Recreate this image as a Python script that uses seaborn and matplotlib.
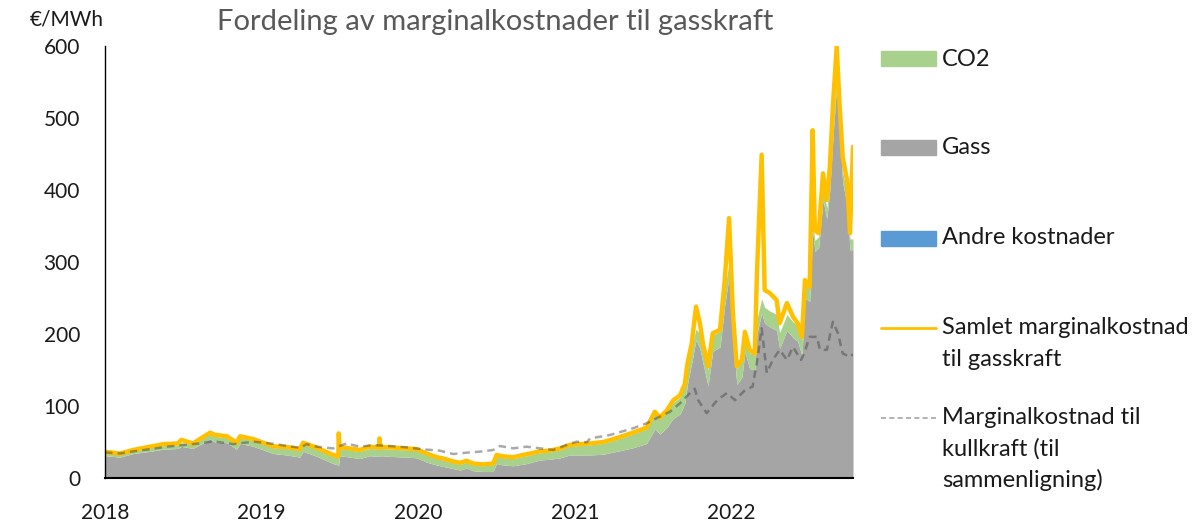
import pandas as pd
import matplotlib.pyplot as plt
import matplotlib.dates as mdates
from matplotlib.patches import Rectangle
from matplotlib.lines import Line2D
import seaborn as sns

sns.set_theme(style="white")
plt.rcParams['font.family'] = ['Lato', 'DejaVu Sans']

# Gas-fired marginal cost components (EUR/MWh)
dates = [
    "2018-01-01", "2018-02-05", "2018-03-08", "2018-04-16", "2018-05-17", "2018-06-20",
    "2018-06-28", "2018-07-25", "2018-09-03", "2018-09-14", "2018-10-12", "2018-11-04",
    "2018-11-12", "2018-12-13", "2019-01-05", "2019-01-28", "2019-03-01", "2019-03-31",
    "2019-04-08", "2019-05-10", "2019-06-17", "2019-06-29", "2019-06-30", "2019-07-02",
    "2019-07-26", "2019-08-18", "2019-09-11", "2019-10-02", "2019-10-03", "2019-10-05",
    "2019-10-27", "2019-12-05", "2019-12-29", "2020-01-21", "2020-02-13", "2020-02-29",
    "2020-03-23", "2020-04-08", "2020-04-23", "2020-05-09", "2020-06-01", "2020-06-24",
    "2020-07-02", "2020-07-18", "2020-08-10", "2020-09-10", "2020-10-11", "2020-11-03",
    "2020-11-27", "2020-12-20", "2021-01-12", "2021-02-05", "2021-03-08", "2021-03-31",
    "2021-04-16", "2021-05-16", "2021-06-17", "2021-07-06", "2021-07-18", "2021-08-03",
    "2021-08-18", "2021-09-03", "2021-09-14", "2021-09-20", "2021-09-30", "2021-10-10",
    "2021-10-19", "2021-10-26", "2021-11-07", "2021-11-18", "2021-12-05", "2021-12-16",
    "2021-12-26", "2022-01-04", "2022-01-13", "2022-01-25", "2022-02-01", "2022-02-12",
    "2022-02-24", "2022-03-01", "2022-03-12", "2022-03-19", "2022-03-31", "2022-04-16",
    "2022-04-23", "2022-05-10", "2022-05-24", "2022-06-04", "2022-06-14", "2022-06-21",
    "2022-07-02", "2022-07-09", "2022-07-14", "2022-07-23", "2022-08-02", "2022-08-11",
    "2022-08-18", "2022-08-25", "2022-09-03", "2022-09-10", "2022-09-17", "2022-09-27",
    "2022-10-04", "2022-10-11",
]
gas = [
    31, 29, 34, 37, 40, 41, 44, 41, 54, 50, 49, 40,
    48, 44, 39, 34, 32, 29, 37, 30, 20, 18, 18, 31,
    29, 27, 31, 30, 30, 31, 30, 29, 28, 22, 18, 16,
    13, 11, 14, 10, 9, 9, 20, 18, 17, 20, 25, 26,
    28, 32, 32, 32, 33, 36, 38, 42, 48, 68, 61, 70,
    83, 89, 104, 130, 160, 192, 180, 160, 128, 176, 182, 240,
    280, 200, 130, 140, 175, 152, 150, 200, 229, 215, 210, 205,
    180, 205, 195, 190, 170, 250, 245, 344, 315, 320, 386, 360,
    400, 470, 548, 480, 410, 380, 317, 317,
]
co2 = [
    4, 4, 4, 5, 5, 5, 5, 6, 7, 8, 7, 7,
    8, 8, 8, 8, 9, 9, 10, 10, 10, 10, 10, 10,
    10, 10, 10, 10, 10, 10, 10, 10, 10, 10, 9, 9,
    8, 8, 8, 8, 8, 9, 10, 10, 10, 11, 10, 10,
    11, 12, 13, 14, 15, 16, 17, 19, 20, 21, 21, 22,
    22, 23, 23, 23, 22, 15, 20, 22, 22, 22, 22, 22,
    20, 22, 22, 22, 22, 22, 22, 20, 20, 22, 22, 22,
    22, 22, 22, 22, 22, 18, 18, 15, 15, 15, 15, 15,
    15, 15, 15, 15, 15, 15, 15, 15,
]
total = [
    36.5, 34, 39, 43.5, 47, 48, 53, 48, 63, 60, 58, 49,
    58, 54, 49, 44, 43, 40, 49, 42, 32, 30, 62, 43,
    41, 39, 43.5, 42, 55, 43, 42.5, 41, 40, 34, 29, 27,
    23, 21, 24, 20, 19, 20, 32, 30, 29, 33, 37, 38,
    41, 46, 47, 48, 50, 54, 57, 63, 70, 92, 84, 94,
    108, 115, 131, 159, 187, 238, 215, 187, 155, 201, 206, 275,
    361, 229, 155, 164, 203, 178, 173, 284, 449, 261, 257, 247,
    215, 243, 224, 215, 196, 275, 265, 483, 344, 340, 423, 386,
    432, 515, 599, 515, 446, 414, 340, 460,
]

# Coal-fired marginal cost (for comparison)
coal_dates = [
    "2018-01-01", "2018-02-05", "2018-03-08", "2018-04-16", "2018-05-25", "2018-08-10",
    "2018-09-10", "2018-10-27", "2018-12-13", "2019-02-05", "2019-03-01", "2019-04-01",
    "2019-04-16", "2019-05-10", "2019-06-17", "2019-07-18", "2019-08-18", "2019-09-18",
    "2019-10-27", "2019-12-05", "2020-01-13", "2020-02-20", "2020-03-23", "2020-04-23",
    "2020-05-24", "2020-06-24", "2020-07-10", "2020-08-10", "2020-09-10", "2020-10-11",
    "2020-11-11", "2020-12-12", "2021-01-05", "2021-01-28", "2021-02-05", "2021-03-23",
    "2021-05-16", "2021-06-17", "2021-07-10", "2021-08-10", "2021-09-03", "2021-09-26",
    "2021-10-07", "2021-10-15", "2021-11-04", "2021-11-28", "2021-12-21", "2022-01-09",
    "2022-02-01", "2022-02-19", "2022-03-03", "2022-03-12", "2022-03-24", "2022-04-07",
    "2022-04-23", "2022-05-10", "2022-05-24", "2022-06-12", "2022-06-19", "2022-07-02",
    "2022-07-19", "2022-07-26", "2022-08-11", "2022-08-25", "2022-09-06", "2022-09-17",
    "2022-10-04", "2022-10-11",
]
coal = [
    35.5, 34, 37, 40, 43.5, 48, 51, 47, 50.5, 47, 44.4, 42,
    47, 43.5, 41, 48, 43.5, 45.8, 44.4, 42.6, 39.8, 38, 33.3, 35.2,
    36.6, 38.9, 44.4, 41.2, 43.5, 41.2, 38.9, 45.8, 50.5, 49.5, 55, 59.7,
    69, 76, 83, 92, 104, 118, 124, 108, 90, 108, 118, 108,
    122, 127, 168, 208, 146, 164, 178, 164, 182, 164, 173, 196,
    196, 178, 178, 217, 201, 173, 168, 172,
]

legend_labels = ["CO2", "Gass", "Andre kostnader",
                 "Samlet marginalkostnad\ntil gasskraft",
                 "Marginalkostnad til\nkullkraft (til\nsammenligning)"]

GREEN = "#A9D18E"
GREY = "#A5A5A5"
BLUE = "#5B9BD5"
ORANGE = "#FFC000"
TXT = "#1a1a1a"

df = pd.DataFrame({"date": pd.to_datetime(dates), "gas": gas, "co2": co2, "total": total})
df_coal = pd.DataFrame({"date": pd.to_datetime(coal_dates), "coal": coal})

W, H = 1194, 525
fig = plt.figure(figsize=(W / 100, H / 100), dpi=100)
ax = fig.add_axes([105 / W, 1 - 478 / H, (853 - 105) / W, (478 - 46) / H])

ax.stackplot(df["date"], df["gas"], df["co2"], colors=[GREY, GREEN], linewidth=0)
sns.lineplot(data=df, x="date", y="total", ax=ax, color=ORANGE, linewidth=3.2)
sns.lineplot(data=df_coal, x="date", y="coal", ax=ax, color="#404040", alpha=0.45,
             linewidth=1.8, linestyle=(0, (3, 2)))

ax.set_xlim(pd.Timestamp("2018-01-01"), pd.Timestamp("2022-10-11"))
ax.set_ylim(0, 600)
ax.set_yticks(range(0, 601, 100))
ax.xaxis.set_major_locator(mdates.YearLocator())
ax.xaxis.set_major_formatter(mdates.DateFormatter("%Y"))
ax.set_xlabel("")
ax.set_ylabel("")
ax.tick_params(axis="both", length=0, labelsize=15, colors=TXT, pad=18)
for s in ["top", "right"]:
    ax.spines[s].set_visible(False)
ax.spines["left"].set_color("#000000")
ax.spines["left"].set_linewidth(1.0)
ax.spines["bottom"].set_color("#000000")
ax.spines["bottom"].set_linewidth(1.5)

fig.text(495 / W, 1 - 22 / H, "Fordeling av marginalkostnader til gasskraft",
         ha="center", va="center", fontsize=21, color="#595959")
fig.text(67 / W, 1 - 19 / H, "€/MWh", ha="center", va="center", fontsize=15, color=TXT)

# legend, drawn by hand to keep Excel's even spacing
ys = [59, 148, 238, 328, 418]
for i, (lab, y) in enumerate(zip(legend_labels, ys)):
    fy = 1 - y / H
    if i < 3:
        c = [GREEN, GREY, BLUE][i]
        fig.patches.append(Rectangle((881 / W, fy - 7.5 / H), 55 / W, 15 / H,
                                     transform=fig.transFigure, color=c))
    elif i == 3:
        fig.lines.append(Line2D([881 / W, 936 / W], [fy, fy], transform=fig.transFigure,
                                color=ORANGE, linewidth=2))
    else:
        fig.lines.append(Line2D([881 / W, 936 / W], [fy, fy], transform=fig.transFigure,
                                color="#A5A5A5", linewidth=1.2, linestyle=(0, (3, 2))))
    for j, line in enumerate(lab.split("\n")):
        fig.text(942 / W, fy - j * 31 / H, line, ha="left", va="center",
                 fontsize=17, color=TXT)

fig.savefig("out.png", dpi=100)
